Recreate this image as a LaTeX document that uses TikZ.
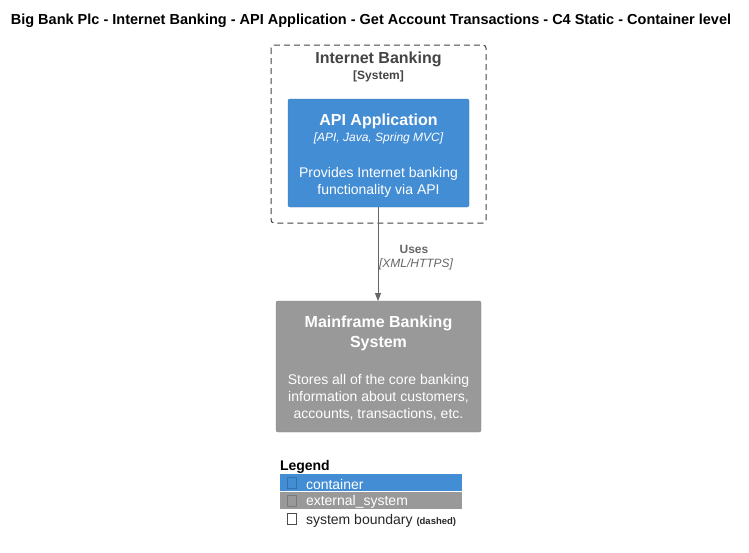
\documentclass[tikz,border=0pt]{standalone}
\usepackage{fontspec}
\setmainfont{Liberation Sans}
\usetikzlibrary{arrows.meta}
\definecolor{c4blue}{HTML}{438DD5}
\definecolor{c4gray}{HTML}{999999}
\definecolor{bndline}{HTML}{444444}
\definecolor{arrowc}{HTML}{666666}
\begin{document}
\begin{tikzpicture}[x=1pt,y=-1pt,
  every node/.style={inner sep=0pt,outer sep=0pt},
  boxA/.style={fill=c4blue,draw=c4blue!85!black,line width=0.4pt,rounded corners=2pt},
  boxB/.style={fill=c4gray,draw=c4gray!85!black,line width=0.4pt,rounded corners=2pt},
  bnd/.style={draw=bndline,dash pattern=on 6pt off 4pt,line width=1pt,rounded corners=3pt},
  wt/.style={text=white,align=center},
  conn/.style={draw=arrowc,line width=0.8pt,-{Triangle[length=8pt,width=6pt]}},
  tofu/.style={draw=#1,line width=0.5pt}
]
\useasboundingbox (0,0) rectangle (749,552);
% title
\node[font=\bfseries\fontsize{14.5}{16}\selectfont] (title) at (371,21) {Big Bank Plc - Internet Banking - API Application - Get Account Transactions - C4 Static - Container level};
% boundary
\draw[bnd] (271,45) rectangle (486,223);
\node[text=bndline,font=\bfseries\fontsize{16}{18}\selectfont] (bndt) at (378.5,59.5) {Internet Banking};
\node[text=bndline,font=\bfseries\fontsize{12}{14}\selectfont] (bnds) at (378.5,76) {[System]};
% api
\draw[boxA] (288,99) rectangle (469,207);
\coordinate (apiB) at (378,207);
\node[wt,font=\bfseries\fontsize{16}{18}\selectfont] (apit) at (378.5,121.5) {API Application};
\node[wt,font=\itshape\fontsize{12}{14}\selectfont] (apiq) at (378.5,138) {[API, Java, Spring MVC]};
\node[wt,font=\fontsize{14}{17}\selectfont] (apid) at (378.5,182) {Provides Internet banking\\functionality via API};
% mainframe
\draw[boxB] (276,301) rectangle (481,432);
\coordinate (mfT) at (378,301);
\node[wt,font=\bfseries\fontsize{16}{20}\selectfont] (mft) at (378.5,333.5) {Mainframe Banking\\System};
\node[wt,font=\fontsize{14}{17}\selectfont] (mfd) at (378.5,397.5) {Stores all of the core banking\\information about customers,\\accounts, transactions, etc.};
% connector
\draw[conn] (apiB) -- (mfT);
\node[text=arrowc,font=\bfseries\fontsize{12}{14}\selectfont] (uses) at (414,249) {Uses};
\node[text=arrowc,font=\itshape\fontsize{12}{14}\selectfont] (usesq) at (416,264) {[XML/HTTPS]};
% legend
\node[anchor=west,font=\bfseries\fontsize{14}{16}\selectfont] (leg) at (280,467) {Legend};
\fill[c4blue] (280,474) rectangle (462,491);
\fill[c4gray] (280,492) rectangle (462,509);
\draw[tofu=c4blue!80!black] (287,477) rectangle (296,488);
\draw[tofu=c4gray!80!black] (287,495) rectangle (296,506);
\draw[tofu=black!70] (287,513) rectangle (296,524);
\node[anchor=west,text=white,font=\fontsize{14}{16}\selectfont] (l1) at (306,484) {container};
\node[anchor=west,text=white,font=\fontsize{14}{16}\selectfont] (l2) at (306,502) {external\_system};
\node[anchor=west,text=black!85,font=\fontsize{14}{16}\selectfont] (l3) at (306,520.5) {system boundary {\bfseries\fontsize{9.5}{12}\selectfont(dashed)}};
\end{tikzpicture}
\end{document}
